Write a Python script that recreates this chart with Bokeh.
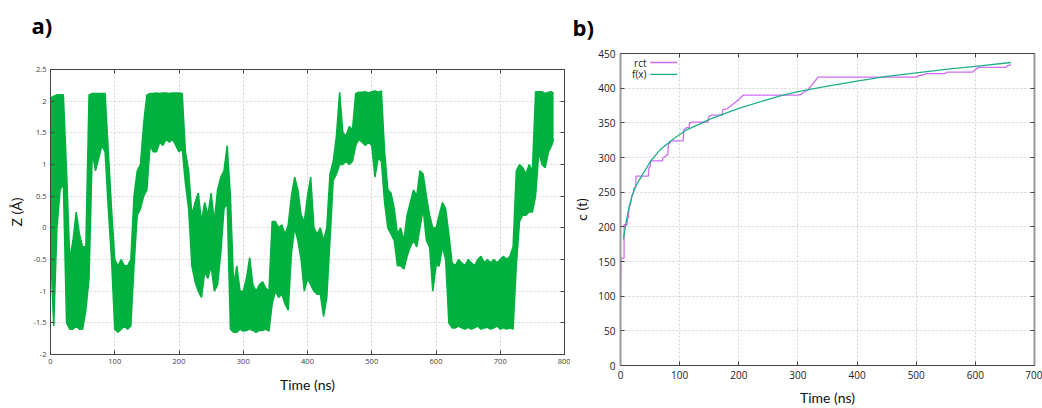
from bokeh.plotting import figure
from bokeh.models import LinearAxis, FixedTicker, Range1d, Label
from bokeh.embed import file_html
from bokeh.resources import INLINE

# ---------------- panel a data: Z(t) envelope (min / max per 5 ns) ----------------
z_time = [0, 5, 10, 15, 20, 25, 30, 35, 40, 45, 50, 55, 60, 65, 70, 75, 80, 85, 90, 95,
          100, 105, 110, 115, 120, 125, 130, 135, 140, 145, 150, 155, 160, 165, 170, 175, 180, 185, 190, 195,
          200, 205, 210, 215, 220, 225, 230, 235, 240, 245, 250, 255, 260, 265, 270, 275, 280, 285, 290, 295,
          300, 305, 310, 315, 320, 325, 330, 335, 340, 345, 350, 355, 360, 365, 370, 375, 380, 385, 390, 395,
          400, 405, 410, 415, 420, 425, 430, 435, 440, 445, 450, 455, 460, 465, 470, 475, 480, 485, 490, 495,
          500, 505, 510, 515, 520, 525, 530, 535, 540, 545, 550, 555, 560, 565, 570, 575, 580, 585, 590, 595,
          600, 605, 610, 615, 620, 625, 630, 635, 640, 645, 650, 655, 660, 665, 670, 675, 680, 685, 690, 695,
          700, 705, 710, 715, 720, 725, 730, 735, 740, 745, 750, 755, 760, 765, 770, 775, 780, 783]
z_low = [-0.3, -1.55, 0.0, 0.6, 0.7, -1.5, -1.6, -1.6, -1.55, -1.6, -1.6, -1.3, -0.8, 1.2, 0.9, 1.1, 1.3, 1.2, 0.3, -0.5,
         -1.6, -1.65, -1.6, -1.55, -1.6, -1.55, -0.6, 0.2, 0.3, 0.5, 0.6, 1.3, 1.2, 1.2, 1.35, 1.3, 1.4, 1.35, 1.4, 1.3,
         1.2, 1.25, 0.7, 0.3, -0.6, -0.85, -1.0, -1.1, -0.7, -0.8, -0.6, -1.0, -0.9, -0.4, 0.3, 0.4, -1.6, -1.65, -1.65, -1.6,
         -1.63, -1.62, -1.6, -1.62, -1.65, -1.62, -1.62, -1.6, -1.63, -1.2, -1.0, -1.1, -1.05, -1.2, -1.3, -0.4, 0.0, -0.2, -0.5, -1.0,
         -0.8, -0.9, -1.0, -1.05, -1.05, -1.4, -1.1, -0.2, 0.75, 0.85, 1.0, 1.0, 1.05, 1.0, 1.05, 1.3, 1.4, 1.35, 1.3, 1.35,
         1.3, 0.8, 1.1, 1.05, 0.4, 0.0, -0.1, -0.2, -0.6, -0.6, -0.65, -0.45, -0.3, -0.2, -0.3, 0.0, 0.3, -0.2, -0.3, -1.0,
         -0.6, -0.6, -0.3, -0.5, -1.5, -1.58, -1.58, -1.55, -1.58, -1.6, -1.57, -1.6, -1.58, -1.55, -1.6, -1.58, -1.57, -1.6, -1.58, -1.55,
         -1.6, -1.58, -1.6, -1.58, -1.6, -0.6, 0.1, 0.2, 0.2, 0.25, 0.25, 0.5, 1.2, 1.0, 0.95, 1.2, 1.3, 1.4]
z_high = [2.05, 2.08, 2.1, 2.1, 2.1, 0.9, -0.5, -0.2, 0.25, -0.1, -0.3, -0.3, 2.1, 2.12, 2.12, 2.12, 2.12, 2.12, 1.2, 0.3,
          -0.5, -0.6, -0.5, -0.6, -0.6, -0.5, 0.5, 0.9, 1.0, 1.65, 2.1, 2.12, 2.12, 2.13, 2.12, 2.13, 2.13, 2.12, 2.13, 2.13,
          2.13, 2.12, 1.2, 0.9, 0.2, 0.4, 0.55, 0.1, 0.4, 0.2, 0.55, 0.1, 0.6, 0.8, 0.9, 1.3, 0.5, -0.9, -0.6, -1.0,
          -1.0, -0.8, -0.47, -0.9, -1.0, -0.9, -0.85, -0.95, -1.0, 0.1, 0.1, 0.0, 0.05, -0.1, 0.05, 0.5, 0.8, 0.6, 0.2, 0.1,
          0.5, 0.8, 0.0, -0.1, 0.0, -0.2, 0.0, 0.85, 1.05, 1.45, 2.14, 1.5, 1.45, 1.6, 1.55, 2.12, 2.14, 2.14, 2.15, 2.13,
          2.15, 2.16, 2.14, 2.16, 1.2, 0.6, 0.55, 0.3, -0.1, 0.0, -0.2, 0.2, 0.4, 0.6, 0.5, 0.9, 0.85, 0.5, 0.2, 0.0,
          0.0, 0.2, 0.4, 0.3, -0.1, -0.55, -0.6, -0.5, -0.55, -0.6, -0.5, -0.55, -0.6, -0.5, -0.45, -0.55, -0.5, -0.55, -0.5, -0.55,
          -0.5, -0.45, -0.5, -0.45, -0.3, 0.9, 1.0, 0.95, 0.85, 1.0, 0.9, 2.15, 2.15, 2.15, 2.12, 2.14, 2.15, 2.12]

a_xticks = [0, 100, 200, 300, 400, 500, 600, 700, 800]
a_yticks = [-2, -1.5, -1, -0.5, 0, 0.5, 1, 1.5, 2, 2.5]
a_ytick_labels = ["-2", "-1.5", "-1", "-0.5", "0", "0.5", "1", "1.5", "2", "2.5"]

# ---------------- panel b data ----------------
rct_time = [0, 1, 6, 6, 11, 12, 13, 14, 15, 17, 19, 22, 23, 26, 26, 47, 48, 50, 51, 71, 72, 77, 78, 80, 81, 84, 85,
            106, 107, 112, 116, 117, 124, 148, 149, 153, 172, 173, 180, 183, 195, 208, 300, 306, 308, 316, 324, 334,
            500, 505, 512, 517, 548, 552, 595, 599, 605, 651, 654, 657, 660]
rct_value = [98, 155, 155, 203, 203, 213, 213, 222, 230, 232, 244, 250, 256, 258, 273, 273, 285, 287, 295, 295, 300, 302, 304, 304, 319, 321, 324,
             324, 340, 343, 343, 350, 351, 351, 358, 361, 361, 369, 370, 372, 380, 390, 390, 391, 393, 397, 405, 416,
             416, 418, 419, 421, 421, 423, 423, 426, 430, 430, 432, 433, 434]
fit_time = [5, 10, 15, 20, 26, 37, 51, 68, 88, 110, 138, 150, 200, 250, 270, 300, 350, 400, 450, 500, 550, 600, 660]
fit_value = [182, 210, 230, 246, 259, 275, 295, 312, 326, 339, 350, 355, 371, 384, 389, 395, 403, 410, 417, 422, 427, 431.5, 437]

b_xticks = [0, 100, 200, 300, 400, 500, 600, 700]
b_yticks = [0, 50, 100, 150, 200, 250, 300, 350, 400, 450]

series_names = ["rct", "f(x)"]
series_colors = ["#cf6cf3", "#1fb08a"]
# legend key placement (data units of panel b), gnuplot style: text, then line sample
legend_text_x = 44
legend_key_x = [50.5, 96]
legend_rows_y = [437, 420]

AX = "#444444"
GRID = "#d4d4d4"


def style_axes(p, xticks, yticks, tick_font, tick_color, xlabel, ylabel, label_font_size):
    p.xaxis.ticker = FixedTicker(ticks=xticks)
    p.yaxis.ticker = FixedTicker(ticks=yticks)
    for ax in (p.xaxis[0], p.yaxis[0]):
        ax.major_label_text_font = "Open Sans"
        ax.major_label_text_font_size = tick_font
        ax.major_label_text_color = tick_color
        ax.major_tick_in = 4
        ax.major_tick_out = 0
        ax.major_tick_line_color = AX
        ax.minor_tick_line_color = None
        ax.axis_line_color = AX
        ax.axis_label_text_font = "Lato"
        ax.axis_label_text_font_size = label_font_size
        ax.axis_label_text_font_style = "normal"
        ax.axis_label_text_color = "#111111"
    p.xaxis.axis_label = xlabel
    p.yaxis.axis_label = ylabel
    top = LinearAxis(ticker=FixedTicker(ticks=xticks), major_label_text_font_size="0px",
                     major_label_text_color=None,
                     major_tick_in=4, major_tick_out=0, major_tick_line_color=AX,
                     minor_tick_line_color=None, axis_line_color=None, major_label_standoff=0)
    right = LinearAxis(ticker=FixedTicker(ticks=yticks), major_label_text_font_size="0px",
                       major_label_text_color=None,
                       major_tick_in=4, major_tick_out=0, major_tick_line_color=AX,
                       minor_tick_line_color=None, axis_line_color=None, major_label_standoff=0)
    p.add_layout(top, "above")
    p.add_layout(right, "right")
    p.grid.grid_line_color = GRID
    p.grid.grid_line_dash = "2 2"
    p.outline_line_color = AX
    p.outline_line_width = 1


def style_title(p, text, offset, standoff, line_height):
    p.title.text = text
    p.title.text_font = "Open Sans"
    p.title.text_font_size = "22px"
    p.title.text_font_style = "bold"
    p.title.text_color = "#000000"
    p.title.text_line_height = line_height
    p.title.align = "left"
    p.title.offset = offset
    p.title.standoff = standoff


# ---------------- panel a ----------------
pa = figure(width=570, height=408, x_range=Range1d(0, 800), y_range=Range1d(-2, 2.5),
            output_backend="svg", toolbar_location=None,
            min_border_left=50, min_border_right=6, min_border_top=69, min_border_bottom=54)
style_title(pa, "a)\n", -19, 4, 0.92)
style_axes(pa, a_xticks, a_yticks, "7.5px", "#404040", "Time (ns)", "Z (Å)", "14px")
pa.yaxis.major_label_overrides = {float(k): v for k, v in zip(a_yticks, a_ytick_labels)}
pa.xaxis.major_label_standoff = 4
pa.yaxis.major_label_standoff = 4
pa.xaxis.axis_label_standoff = 9
pa.yaxis.axis_label_standoff = 6

GREEN = "#00b140"
pa.varea(x=z_time, y1=z_low, y2=z_high, fill_color=GREEN)
pa.line(x=z_time, y=z_low, line_color=GREEN, line_width=1.5)
pa.line(x=z_time, y=z_high, line_color=GREEN, line_width=1.5)

# ---------------- panel b ----------------
pb = figure(width=472, height=408, x_range=Range1d(0, 700), y_range=Range1d(0, 450),
            output_backend="svg", toolbar_location=None,
            min_border_left=48, min_border_right=8, min_border_top=53, min_border_bottom=43)
style_title(pb, "b)\n", -48, 4, 0.31)
style_axes(pb, b_xticks, b_yticks, "10px", "#222222", "Time (ns)", "c (t)", "14px")
pb.yaxis.axis_line_color = "#9a9a9a"
pb.yaxis.axis_line_width = 2
pb.xaxis.major_label_standoff = 5
pb.yaxis.major_label_standoff = 5
pb.xaxis.axis_label_standoff = 7
pb.yaxis.axis_label_standoff = 5

pb.line(x=rct_time, y=rct_value, line_color=series_colors[0], line_width=1.3)
pb.line(x=fit_time, y=fit_value, line_color=series_colors[1], line_width=1.3)

pb.segment(x0=[legend_key_x[0]] * 2, x1=[legend_key_x[1]] * 2, y0=legend_rows_y, y1=legend_rows_y,
           line_color=series_colors, line_width=1.3)
for name, yy in zip(series_names, legend_rows_y):
    pb.add_layout(Label(x=legend_text_x, y=yy, text=name, text_align="right", text_baseline="middle",
                        text_font="Open Sans", text_font_size="10px", text_color="#222222"))

TEMPLATE = """{% block postamble %}<style>
body { display: flex !important; flex-direction: row; align-items: flex-start; }
</style>{% endblock %}"""

open("out.html", "w").write(file_html([pa, pb], INLINE, template=TEMPLATE))
